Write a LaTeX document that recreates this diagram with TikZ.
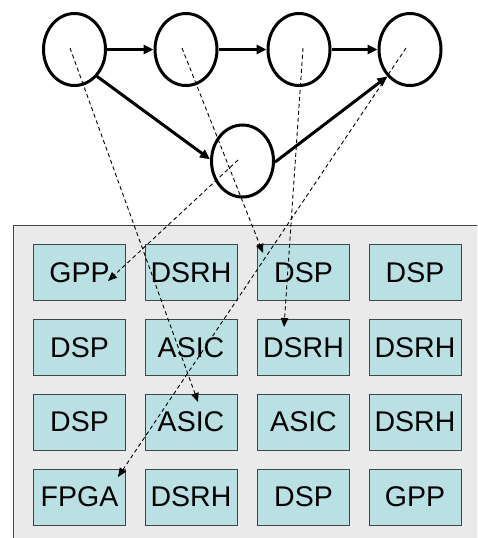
\documentclass[tikz,border=0pt]{standalone}
\usepackage{fontspec}
\setmainfont{Liberation Sans}
\usetikzlibrary{shapes.geometric,arrows.meta}
\definecolor{boxfill}{HTML}{B9E0E3}
\definecolor{panelfill}{HTML}{EAEAEA}
\definecolor{edgegray}{HTML}{454545}
\tikzset{
  task/.style={ellipse,draw=black,line width=3pt,inner sep=0pt,minimum width=62pt,minimum height=72pt},
  flow/.style={line width=3pt,-{Triangle[length=10pt,width=9pt]}},
  mapto/.style={line width=0.9pt,dash pattern=on 4pt off 3pt,-{Triangle[length=9pt,width=7.5pt]}},
  pe/.style={rectangle,draw=edgegray,line width=1pt,fill=boxfill,minimum width=92pt,minimum height=56pt,inner sep=0pt,font=\fontsize{28.5}{30}\selectfont},
  panel/.style={draw=edgegray,line width=1pt,fill=panelfill}
}
\begin{document}
\begin{tikzpicture}[x=1pt,y=-1pt]
\useasboundingbox (0,0) rectangle (477,538);
\clip (0,0) rectangle (477,538);
\draw[panel] (13,225) rectangle (500,560);
% processing elements
\node[pe] (b11) at (79.5,272.5) {GPP};
\node[pe] (b12) at (191,272.5) {DSRH};
\node[pe] (b13) at (303.5,272.5) {DSP};
\node[pe] (b14) at (415,272.5) {DSP};
\node[pe] (b21) at (79.5,347.5) {DSP};
\node[pe] (b22) at (191,347.5) {ASIC};
\node[pe] (b23) at (303.5,347.5) {DSRH};
\node[pe] (b24) at (415,347.5) {DSRH};
\node[pe] (b31) at (79.5,422) {DSP};
\node[pe] (b32) at (191,422) {ASIC};
\node[pe] (b33) at (303.5,422) {ASIC};
\node[pe] (b34) at (415,422) {DSRH};
\node[pe] (b41) at (79.5,497) {FPGA};
\node[pe] (b42) at (191,497) {DSRH};
\node[pe] (b43) at (303.5,497) {DSP};
\node[pe] (b44) at (415,497) {GPP};
% tasks
\node[task] (c1) at (74.5,49.5) {};
\node[task] (c2) at (186,49.5) {};
\node[task] (c3) at (299,49.5) {};
\node[task] (c4) at (410,49.5) {};
\node[task] (c5) at (242.5,161) {};
\draw[flow] (c1) -- (c2);
\draw[flow] (c2) -- (c3);
\draw[flow] (c3) -- (c4);
\draw[flow] (c1.-50) -- (c5.177);
\draw[flow] (c5.-2) -- (c4.230);
% mapping
\coordinate (s1) at (70,48);
\coordinate (s2) at (182,48);
\coordinate (s3) at (303,48);
\coordinate (s4) at (406,48);
\coordinate (s5) at (238,160);
\coordinate (t1) at ([shift={(7,-20)}]b32.center);
\coordinate (t2) at ([shift={(-40.5,-19.5)}]b13.center);
\coordinate (t3) at ([shift={(-19.5,-20.5)}]b23.center);
\coordinate (t4) at ([shift={(38.5,-20)}]b41.center);
\coordinate (t5) at ([shift={(28.5,8.5)}]b11.center);
\draw[mapto] (s1) -- (t1);
\draw[mapto] (s2) -- (t2);
\draw[mapto] (s3) -- (t3);
\draw[mapto] (s4) -- (t4);
\draw[mapto] (s5) -- (t5);
\end{tikzpicture}
\end{document}
